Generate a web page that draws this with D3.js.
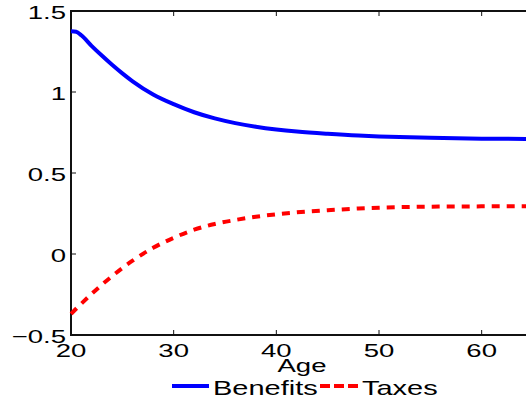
<!DOCTYPE html>
<html><head><meta charset="utf-8">
<script src="https://cdn.jsdelivr.net/npm/d3@7"></script>
<style>body{margin:0;background:#fff}svg{display:block}text{font-family:"Liberation Sans",Arial,sans-serif;fill:#000}</style>
</head><body><svg id="c" width="526" height="401"></svg>
<script>
const ages = [20,20.5,21,22,23,24,25,26,28,30,32,34,36,38,40,42,45,48,50,55,60,65];
const benefits = [1.375,1.372,1.35,1.285,1.225,1.168,1.115,1.066,0.985,0.925,0.875,0.837,0.808,0.786,0.769,0.756,0.742,0.731,0.726,0.717,0.712,0.71];
const taxes = [-0.37,-0.338,-0.307,-0.247,-0.19,-0.137,-0.087,-0.041,0.038,0.1,0.15,0.185,0.21,0.23,0.245,0.257,0.27,0.281,0.286,0.292,0.294,0.295];
const xTicks = [20,30,40,50,60];
const yTicks = [-0.5,0,0.5,1,1.5];
const yTickLabels = ["\u22120.5","0","0.5","1","1.5"];
const seriesNames = ["Benefits","Taxes"];
const xLabel = "Age";

const svg = d3.select("#c");
const x = d3.scaleLinear().domain([20,65]).range([71,533]);
const y = d3.scaleLinear().domain([-0.5,1.5]).range([335,11]);
const SX = 1.45;

const g = svg.append("g");
g.append("rect").attr("x",x(20)).attr("y",y(1.5)).attr("width",x(65)-x(20)).attr("height",y(-0.5)-y(1.5))
 .attr("fill","none").attr("stroke","#111").attr("stroke-width",2);

xTicks.forEach(t=>{
  g.append("line").attr("x1",x(t)).attr("x2",x(t)).attr("y1",y(-0.5)).attr("y2",y(-0.5)-5).attr("stroke","#111").attr("stroke-width",1);
  g.append("line").attr("x1",x(t)).attr("x2",x(t)).attr("y1",y(1.5)).attr("y2",y(1.5)+5).attr("stroke","#111").attr("stroke-width",1);
  g.append("text").attr("transform",`translate(${x(t)},${y(-0.5)+22}) scale(${SX},1)`).attr("text-anchor","middle")
   .attr("font-size",19).text(t);
});
yTicks.forEach((t,i)=>{
  g.append("line").attr("x1",x(20)).attr("x2",x(20)+5).attr("y1",y(t)).attr("y2",y(t)).attr("stroke","#111").attr("stroke-width",1);
  g.append("text").attr("transform",`translate(${x(20)-5},${y(t)+8}) scale(${SX},1)`).attr("text-anchor","end")
   .attr("font-size",19).text(yTickLabels[i]);
});

const line = d3.line().curve(d3.curveMonotoneX);
svg.append("path").attr("d",line(ages.map((a,i)=>[x(a),y(benefits[i])])))
  .attr("fill","none").attr("stroke","#0000ff").attr("stroke-width",4);
svg.append("path").attr("d",line(ages.map((a,i)=>[x(a),y(taxes[i])])))
  .attr("fill","none").attr("stroke","#ff0000").attr("stroke-width",4).attr("stroke-dasharray","8,7");

svg.append("text").attr("transform",`translate(${(x(20)+x(65))/2},372) scale(${SX},1)`).attr("text-anchor","middle")
  .attr("font-size",19).text(xLabel);

const ly = 386;
svg.append("line").attr("x1",172).attr("x2",209).attr("y1",ly).attr("y2",ly).attr("stroke","#0000ff").attr("stroke-width",4);
svg.append("text").attr("transform",`translate(213,${ly+9}) scale(${SX},1)`).attr("font-size",20).text(seriesNames[0]);
svg.append("line").attr("x1",320).attr("x2",358).attr("y1",ly).attr("y2",ly).attr("stroke","#ff0000").attr("stroke-width",4).attr("stroke-dasharray","10,4");
svg.append("text").attr("transform",`translate(362,${ly+9}) scale(${SX},1)`).attr("font-size",20).text(seriesNames[1]);
</script></body></html>
